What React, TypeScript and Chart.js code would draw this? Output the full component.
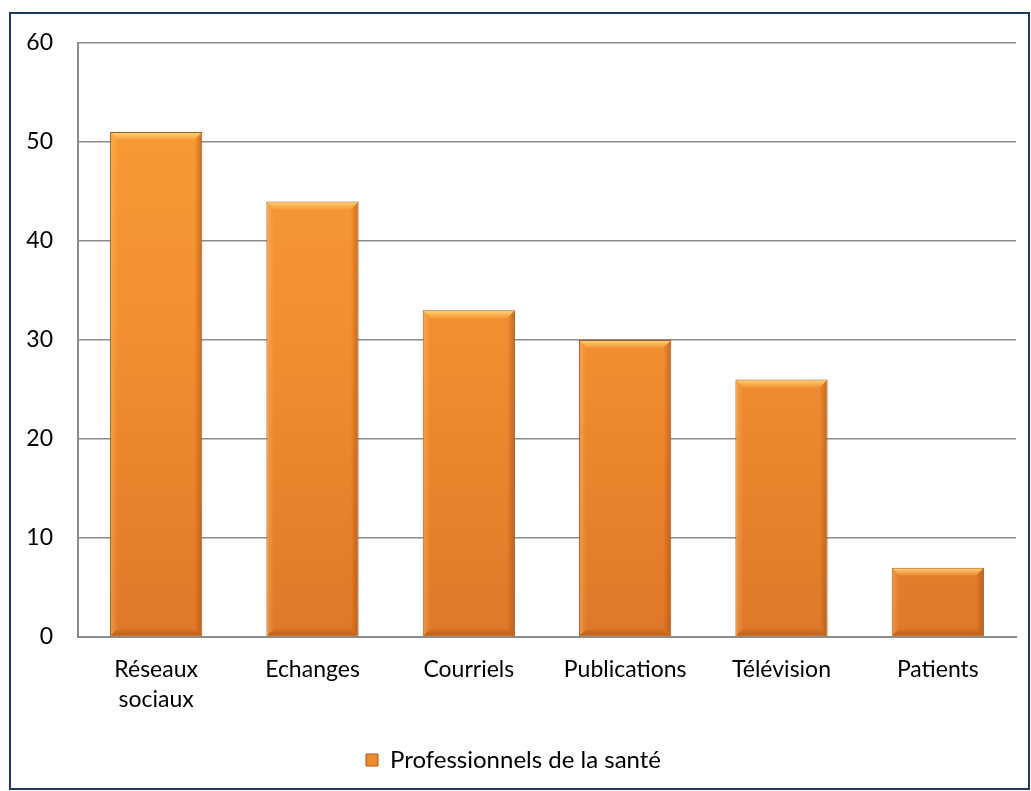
import React, { useEffect, useRef } from "react";
import { Chart, registerables } from "chart.js";

Chart.register(...registerables);

const categories: (string | string[])[] = [["Réseaux", "sociaux"], "Echanges", "Courriels", "Publications", "Télévision", "Patients"];
const values: number[] = [51, 44, 33, 30, 26, 7];
const seriesName = "Professionnels de la santé";
const yTicks: number[] = [0, 10, 20, 30, 40, 50, 60];

const FONT = "Lato, 'Open Sans', sans-serif";

const bevelPlugin = {
  id: "bevel",
  afterDatasetsDraw(chart: any) {
    const ctx = chart.ctx;
    const meta = chart.getDatasetMeta(0);
    meta.data.forEach((bar: any) => {
      const { x, y, base, width } = bar.getProps(["x", "y", "base", "width"], true);
      const l = x - width / 2 + 1;
      const r = x + width / 2 - 1;
      const t = y + 1;
      const b = base - 1;
      const d = 7;
      ctx.save();
      // top bevel
      let g = ctx.createLinearGradient(0, t, 0, t + d);
      g.addColorStop(0, "rgba(255,214,120,0.95)");
      g.addColorStop(1, "rgba(255,190,90,0.2)");
      ctx.fillStyle = g;
      ctx.beginPath();
      ctx.moveTo(l, t);
      ctx.lineTo(r, t);
      ctx.lineTo(r - d, t + d);
      ctx.lineTo(l + d, t + d);
      ctx.closePath();
      ctx.fill();
      // right bevel
      g = ctx.createLinearGradient(r, 0, r - d, 0);
      g.addColorStop(0, "rgba(150,70,10,0.45)");
      g.addColorStop(1, "rgba(150,70,10,0)");
      ctx.fillStyle = g;
      ctx.beginPath();
      ctx.moveTo(r, t);
      ctx.lineTo(r, b);
      ctx.lineTo(r - d, b - d);
      ctx.lineTo(r - d, t + d);
      ctx.closePath();
      ctx.fill();
      // left bevel
      g = ctx.createLinearGradient(l, 0, l + d, 0);
      g.addColorStop(0, "rgba(255,200,110,0.35)");
      g.addColorStop(1, "rgba(255,200,110,0)");
      ctx.fillStyle = g;
      ctx.beginPath();
      ctx.moveTo(l, t);
      ctx.lineTo(l, b);
      ctx.lineTo(l + d, b - d);
      ctx.lineTo(l + d, t + d);
      ctx.closePath();
      ctx.fill();
      // bottom bevel
      g = ctx.createLinearGradient(0, b, 0, b - d);
      g.addColorStop(0, "rgba(140,65,10,0.45)");
      g.addColorStop(1, "rgba(140,65,10,0)");
      ctx.fillStyle = g;
      ctx.beginPath();
      ctx.moveTo(l, b);
      ctx.lineTo(r, b);
      ctx.lineTo(r - d, b - d);
      ctx.lineTo(l + d, b - d);
      ctx.closePath();
      ctx.fill();
      ctx.restore();
    });
  },
};

export default function App() {
  const ref = useRef<HTMLCanvasElement | null>(null);
  useEffect(() => {
    document.body.style.margin = "0";
    const canvas = ref.current!;
    const chart = new Chart(canvas, {
      type: "bar",
      data: {
        labels: categories,
        datasets: [
          {
            label: seriesName,
            data: values,
            backgroundColor: (ctx: any) => {
              const c = ctx.chart;
              const area = c.chartArea;
              if (!area) return "#F39333";
              const g = c.ctx.createLinearGradient(0, area.top, 0, area.bottom);
              g.addColorStop(0, "#FA9E38");
              g.addColorStop(0.5, "#F28E31");
              g.addColorStop(1, "#DF7828");
              return g;
            },
            borderColor: "#A85A1C",
            borderWidth: 1,
            barPercentage: 0.59,
            categoryPercentage: 1,
          },
        ],
      },
      options: {
        animation: false,
        responsive: false,
        maintainAspectRatio: false,
        layout: { padding: { top: 29, right: 12, left: 0, bottom: 6 } },
        scales: {
          x: {
            grid: { display: false, drawTicks: false },
            border: { display: true, color: "#8c8c8c", width: 2 },
            ticks: {
              color: "#000",
              font: { family: FONT, size: 23, lineHeight: 1.3 },
              padding: 18,
              maxRotation: 0,
              autoSkip: false,
            },
            afterFit: (s: any) => {
              s.height = 101;
              s.paddingLeft = 0;
              s.paddingRight = 0;
            },
          },
          y: {
            min: 0,
            max: 60,
            afterBuildTicks: (s: any) => {
              s.ticks = yTicks.map((v) => ({ value: v }));
            },
            grid: { color: "#8c8c8c", lineWidth: 1.5, drawTicks: false },
            border: { display: true, color: "#8c8c8c", width: 2 },
            ticks: {
              color: "#000",
              font: { family: FONT, size: 23 },
              padding: 25,
            },
            afterFit: (s: any) => {
              s.width = 67;
              s.paddingTop = 0;
              s.paddingBottom = 0;
            },
          },
        },
        plugins: {
          legend: {
            position: "bottom",
            labels: {
              color: "#000",
              font: { family: FONT, size: 24 },
              boxWidth: 12,
              boxHeight: 12,
              padding: 10,
              generateLabels: () => [
                {
                  text: seriesName,
                  fillStyle: "#EE8A2E",
                  strokeStyle: "#A85A1C",
                  lineWidth: 1,
                  fontColor: "#000",
                  datasetIndex: 0,
                } as any,
              ],
            },
          },
          tooltip: { enabled: false },
        },
      },
      plugins: [bevelPlugin],
    });
    return () => chart.destroy();
  }, []);
  return (
    <div
      style={{
        position: "absolute",
        left: 9,
        top: 12,
        width: 1021,
        height: 778,
        boxSizing: "border-box",
        border: "2px solid #203864",
        background: "#fff",
      }}
    >
      <canvas ref={ref} width={1017} height={774} style={{ display: "block" }} />
    </div>
  );
}
